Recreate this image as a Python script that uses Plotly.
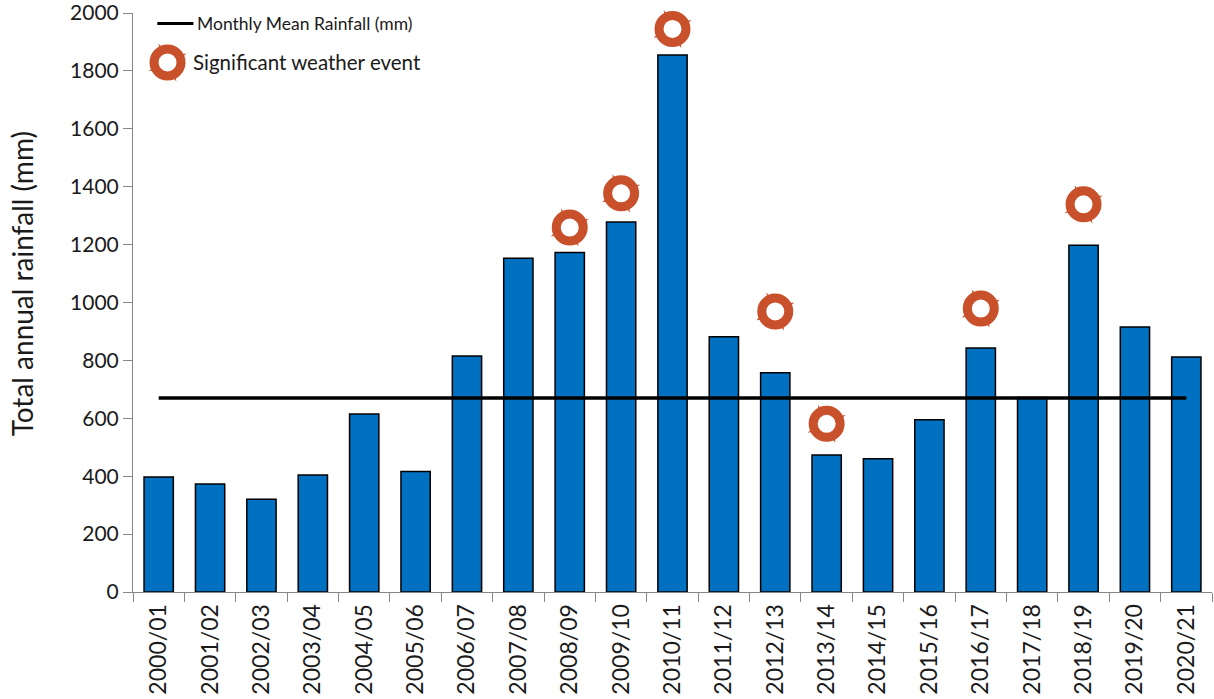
import plotly.graph_objects as go

seasons = ["2000/01","2001/02","2002/03","2003/04","2004/05","2005/06","2006/07","2007/08",
           "2008/09","2009/10","2010/11","2011/12","2012/13","2013/14","2014/15","2015/16",
           "2016/17","2017/18","2018/19","2019/20","2020/21"]
rainfall = [397,373,320,404,615,416,815,1153,1173,1278,1855,882,757,473,460,595,843,672,1198,915,812]
mean_rainfall = [670]*len(seasons)
event_seasons = ["2008/09","2009/10","2010/11","2012/13","2013/14","2016/17","2018/19"]
event_levels = [1259,1377,1945,969,581,979,1339]
yticks = list(range(0,2001,200))

FONT = "Lato, Carlito, Calibri, sans-serif"
TXT = "#1a1a1a"
RING = "#C8502B"
AXIS = "#868686"
TAILS = dict(symbol="star-square", size=27, angle=20, color=RING, line=dict(width=0))
EYE = dict(symbol="circle", size=27, color="white", line=dict(color=RING, width=9))

fig = go.Figure()
fig.add_bar(x=seasons, y=rainfall, width=0.57, marker=dict(color="#0070C0", line=dict(color="#000000", width=1.5)),
            name="Total annual rainfall (mm)", showlegend=False)
fig.add_scatter(x=seasons, y=mean_rainfall, mode="lines", line=dict(color="#000000", width=3.5),
                name="Monthly Mean Rainfall (mm)", showlegend=False)
for style, label in ((TAILS, "Significant weather event (tails)"), (EYE, "Significant weather event")):
    fig.add_scatter(x=event_seasons, y=event_levels, mode="markers", cliponaxis=False, marker=style,
                    name=label, showlegend=False)

# legend key and labels, placed in plot-area fractions
fig.add_shape(type="line", xref="paper", yref="paper", x0=0.0225, x1=0.056, y0=0.982, y1=0.982,
              line=dict(color="#000000", width=3))
for style in (TAILS, EYE):
    fig.add_scatter(x=[0.032], y=[0.9146], xaxis="x2", yaxis="y2", mode="markers", showlegend=False,
                    hoverinfo="skip", marker=style)
fig.add_annotation(xref="paper", yref="paper", x=0.059, y=0.982, text="Monthly Mean Rainfall (mm)", showarrow=False,
                   xanchor="left", yanchor="middle", xshift=-2, font=dict(family=FONT, size=17.5, color=TXT))
fig.add_annotation(xref="paper", yref="paper", x=0.0555, y=0.9146, text="Significant weather event", showarrow=False,
                   xanchor="left", yanchor="middle", xshift=-2, font=dict(family=FONT, size=20.5, color=TXT))
fig.add_annotation(xref="paper", yref="paper", x=-0.1025, y=0.532, text="Total annual rainfall (mm)", showarrow=False,
                   textangle=-90, xanchor="center", yanchor="middle", font=dict(family=FONT, size=28, color=TXT))

fig.update_layout(
    width=1214, height=699, autosize=False,
    margin=dict(l=133, r=2, t=12.5, b=107, autoexpand=False),
    paper_bgcolor="white", plot_bgcolor="white",
    font=dict(family=FONT, color=TXT),
    xaxis=dict(type="category", categoryorder="array", categoryarray=seasons, tickson="boundaries",
               ticks="outside", ticklen=9, tickcolor=AXIS, tickwidth=1, showline=True, linecolor=AXIS, linewidth=1,
               tickangle=-90, tickfont=dict(size=23, family=FONT, color=TXT), showgrid=False, zeroline=False,
               range=[-0.5, 20.5], ticklabeloverflow="allow", ticklabelstandoff=2),
    yaxis=dict(range=[0,2000], tickvals=yticks, ticks="outside", ticklen=9, tickcolor=AXIS, tickwidth=1,
               showline=True, linecolor=AXIS, linewidth=1, showgrid=False, zeroline=False,
               tickfont=dict(size=21, family=FONT, color=TXT), ticklabeloverflow="allow"),
    xaxis2=dict(overlaying="x", range=[0,1], visible=False, anchor="y2"),
    yaxis2=dict(overlaying="y", range=[0,1], visible=False, anchor="x2"),
    showlegend=False,
)
fig.write_html("out.html", config={"displayModeBar": False},
               post_script="document.body.style.margin='0';document.documentElement.style.overflow='hidden';")
